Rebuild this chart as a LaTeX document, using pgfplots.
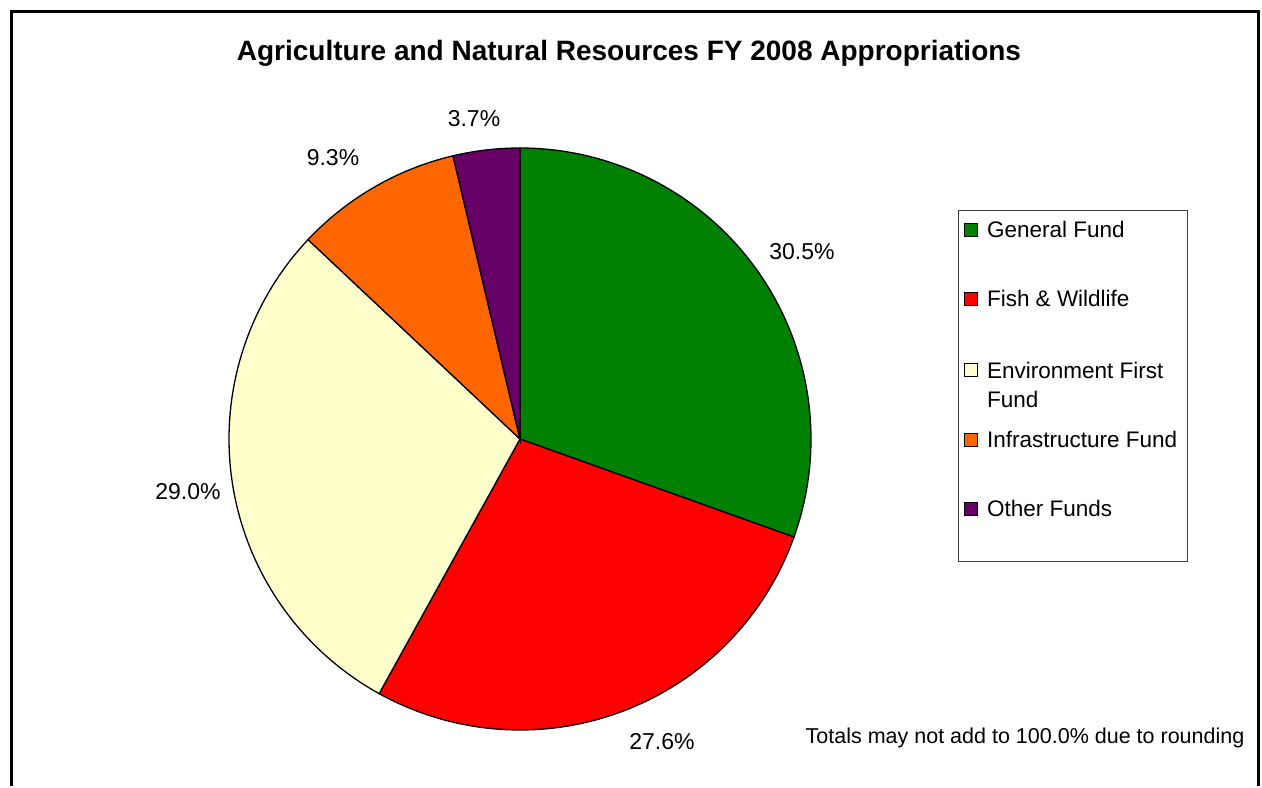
\documentclass[border=0pt]{standalone}
\usepackage{pgfplots}
\pgfplotsset{compat=1.18}
\usepackage{pgfplotstable}
\usepackage{fontspec}
\setmainfont{Liberation Sans}
\definecolor{cgreen}{HTML}{008000}
\definecolor{cred}{HTML}{FF0000}
\definecolor{cyellow}{HTML}{FFFFCC}
\definecolor{corange}{HTML}{FF6600}
\definecolor{cpurple}{HTML}{660066}
\pgfplotstableread{
value
30.5
27.6
29.0
9.3
3.7
}\piedata
\pgfplotstablegetelem{0}{value}\of\piedata \let\vA\pgfplotsretval
\pgfplotstablegetelem{1}{value}\of\piedata \let\vB\pgfplotsretval
\pgfplotstablegetelem{2}{value}\of\piedata \let\vC\pgfplotsretval
\pgfplotstablegetelem{3}{value}\of\piedata \let\vD\pgfplotsretval
\pgfplotstablegetelem{4}{value}\of\piedata \let\vE\pgfplotsretval
\pgfmathsetmacro\tot{\vA+\vB+\vC+\vD+\vE}
\pgfmathsetmacro\kk{360/\tot}
\pgfmathsetmacro\aA{90-\vA*\kk}
\pgfmathsetmacro\aB{\aA-\vB*\kk}
\pgfmathsetmacro\aC{\aB-\vC*\kk}
\pgfmathsetmacro\aD{\aC-\vD*\kk}
\pgfmathsetmacro\aE{\aD-\vE*\kk}
\def\cx{520}\def\cy{347}\def\rr{291}
\begin{document}
\begin{tikzpicture}
\begin{axis}[
  hide axis, scale only axis, width=1262pt, height=786pt,
  xmin=0, xmax=1262, ymin=0, ymax=786, clip=false,
  legend style={draw=none, fill=none, at={(axis cs:964,565)}, anchor=north west,
    inner sep=0pt, outer sep=0pt, row sep=51pt, column sep=9pt,
    font=\fontsize{22.5}{29}\selectfont, nodes={inner sep=0pt, outer sep=0pt}},
  legend cell align=left,
  legend image code/.code={\draw[#1, draw=black, line width=1pt] (0pt,-6.5pt) rectangle (13pt,6.5pt);},
]
\path (axis cs:0,0) rectangle (axis cs:1262,786);
\draw[line width=2.2pt] (axis cs:11.5,0) -- (axis cs:11.5,774.5) -- (axis cs:1258.5,774.5) -- (axis cs:1258.5,0);
\addplot[fill=cgreen, draw=black, line width=1.3pt, domain=\aA:90, samples=120, variable=\t] ({\cx+\rr*cos(\t)},{\cy+\rr*sin(\t)}) -- (axis cs:\cx,\cy) -- cycle;
\addlegendentry{General Fund}
\addplot[fill=cred, draw=black, line width=1.3pt, domain=\aB:\aA, samples=120, variable=\t] ({\cx+\rr*cos(\t)},{\cy+\rr*sin(\t)}) -- (axis cs:\cx,\cy) -- cycle;
\addlegendentry{Fish \& Wildlife}
\addplot[fill=cyellow, draw=black, line width=1.3pt, domain=\aC:\aB, samples=120, variable=\t] ({\cx+\rr*cos(\t)},{\cy+\rr*sin(\t)}) -- (axis cs:\cx,\cy) -- cycle;
\addlegendentry{\raisebox{0pt}[\height][2pt]{\begin{tabular}[t]{@{}l@{}}Environment First\\[0pt]Fund\end{tabular}}}
\addplot[fill=corange, draw=black, line width=1.3pt, domain=\aD:\aC, samples=60, variable=\t] ({\cx+\rr*cos(\t)},{\cy+\rr*sin(\t)}) -- (axis cs:\cx,\cy) -- cycle;
\addlegendentry{Infrastructure Fund}
\addplot[fill=cpurple, draw=black, line width=1.3pt, domain=\aE:\aD, samples=40, variable=\t] ({\cx+\rr*cos(\t)},{\cy+\rr*sin(\t)}) -- (axis cs:\cx,\cy) -- cycle;
\addlegendentry{Other Funds}
\draw[line width=1pt, black!75] (axis cs:958,575) rectangle (axis cs:1187,224);
\node[font=\fontsize{28}{32}\selectfont\bfseries] at (axis cs:629,733) {Agriculture and Natural Resources FY 2008 Appropriations};
\begin{scope}[every node/.style={font=\fontsize{23}{27}\selectfont}]
\node at (axis cs:802,534) {30.5\%};
\node at (axis cs:662,44) {27.6\%};
\node at (axis cs:188,294) {29.0\%};
\node at (axis cs:333,628) {9.3\%};
\node at (axis cs:474,667) {3.7\%};
\end{scope}
\node[font=\fontsize{21.5}{25}\selectfont] at (axis cs:1025,48) {Totals may not add to 100.0\% due to rounding};
\end{axis}
\end{tikzpicture}
\end{document}
